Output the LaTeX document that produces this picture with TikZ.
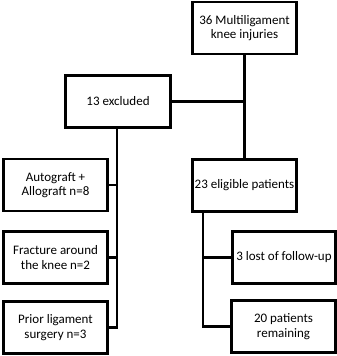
\documentclass[tikz,border=0pt]{standalone}
\usepackage{fontspec}
\setmainfont{Carlito}
\begin{document}
\begin{tikzpicture}[x=1pt,y=-1pt,
  boxnode/.style={draw=black,line width=2.6pt,fill=white,inner sep=0pt,
    minimum width=#1,minimum height=52pt,align=center,
    font=\fontsize{13}{14.5}\selectfont},
  boxnode/.default=104pt,
  link/.style={draw=black,line width=2.8pt,line cap=rect,line join=miter}]
\useasboundingbox[fill=white] (0,0) rectangle (337,356);
\node[boxnode] (top) at (244.5,28) {36 Multiligament\\knee injuries};
\node[boxnode=105pt] (excl) at (118,101.5) {13 excluded};
\node[boxnode] (auto) at (55.5,185) {Autograft +\\Allograft n=8};
\node[boxnode] (frac) at (55.5,257.5) {Fracture around\\the knee n=2};
\node[boxnode] (prior) at (55.5,327.5) {Prior ligament\\surgery n=3};
\node[boxnode] (elig) at (244.5,185.5) {23 eligible patients};
\node[boxnode=103pt] (lost) at (284,257.5) {3 lost of follow-up};
\node[boxnode] (remain) at (283.5,326.5) {20 patients\\remaining};
\coordinate (j) at (top.south |- excl.east);
\coordinate (lv) at ([xshift=-1pt]excl.south);
\coordinate (rv) at ([xshift=-41.5pt]elig.south);
\draw[link] (top.south) -- (elig.north);
\draw[link] (excl.east) -- (j);
\draw[link] (lv) -- (lv |- prior.east) -- (prior.east);
\draw[link] (auto.east) -- (auto.east -| lv);
\draw[link] (frac.east) -- (frac.east -| lv);
\draw[link] (rv) -- (rv |- remain.west) -- (remain.west);
\draw[link] (lost.west) -- (lost.west -| rv);
\end{tikzpicture}
\end{document}
